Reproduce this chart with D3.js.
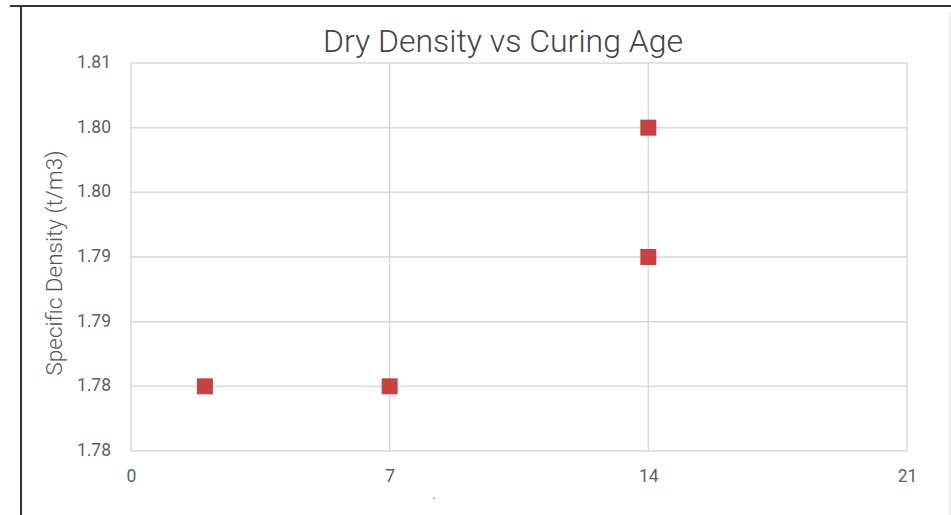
<!DOCTYPE html>
<html>
<head>
<meta charset="utf-8">
<script src="https://cdn.jsdelivr.net/npm/d3@7"></script>
<style>
  html, body { margin: 0; padding: 0; background: #fff; }
  svg { display: block; font-family: Roboto, "Noto Sans", sans-serif; }
</style>
</head>
<body>
<svg id="chart" width="951" height="515"></svg>
<script>
// Curing age (days) and measured dry density (t/m3)
const curingAge = [2, 7, 14, 14];
const dryDensity = [1.780, 1.780, 1.790, 1.800];

// Axis ticks and their displayed labels
const xTicks = [0, 7, 14, 21];
const yTicks = [1.775, 1.780, 1.785, 1.790, 1.795, 1.800, 1.805];
const yTickLabels = ["1.78", "1.78", "1.79", "1.79", "1.80", "1.80", "1.81"];

const titleText = "Dry Density vs Curing Age";
const yTitle = "Specific Density (t/m3)";
const xTitle = ".";

const svg = d3.select("#chart");
const W = 951, H = 515;
const plot = { left: 131, right: 907, top: 63, bottom: 451 };

// outer frame
svg.append("rect").attr("x", 0).attr("y", 0).attr("width", W).attr("height", H).attr("fill", "#fff");
svg.append("line").attr("x1", 10).attr("x2", W).attr("y1", 6).attr("y2", 6)
  .attr("stroke", "#333").attr("stroke-width", 2);
svg.append("line").attr("x1", 21).attr("x2", 21).attr("y1", 6).attr("y2", H)
  .attr("stroke", "#333").attr("stroke-width", 2);
svg.append("line").attr("x1", 950).attr("x2", 950).attr("y1", 12).attr("y2", H)
  .attr("stroke", "#ddd").attr("stroke-width", 1);

const x = d3.scaleLinear().domain([0, 21]).range([plot.left, plot.right]);
const y = d3.scaleLinear().domain([1.775, 1.805]).range([plot.bottom, plot.top]);

// gridlines
const grid = svg.append("g");
grid.selectAll("line.h").data(yTicks).join("line")
  .attr("x1", plot.left).attr("x2", plot.right)
  .attr("y1", d => y(d)).attr("y2", d => y(d))
  .attr("stroke", "#d9d9d9").attr("stroke-width", 1.5);
grid.selectAll("line.v").data(xTicks).join("line")
  .attr("x1", d => x(d)).attr("x2", d => x(d))
  .attr("y1", plot.top).attr("y2", plot.bottom)
  .attr("stroke", "#d9d9d9").attr("stroke-width", 1.5);

// y axis labels
const yAxis = d3.axisLeft(y).tickValues(yTicks).tickSize(0).tickPadding(0)
  .tickFormat((d, i) => yTickLabels[i]);
const gy = svg.append("g").attr("transform", `translate(${plot.left - 20},-1)`).call(yAxis);
gy.select(".domain").remove();
gy.selectAll("text").attr("font-size", 17.5).attr("fill", "#5f5f5f")
  .attr("font-family", "Roboto, sans-serif");

// x axis labels
const xAxis = d3.axisBottom(x).tickValues(xTicks).tickSize(0).tickPadding(0)
  .tickFormat(d3.format("d"));
const gx = svg.append("g").attr("transform", `translate(0,${plot.bottom + 19})`).call(xAxis);
gx.select(".domain").remove();
gx.selectAll("text").attr("font-size", 17.5).attr("fill", "#5f5f5f")
  .attr("font-family", "Roboto, sans-serif");

// title
svg.append("text").attr("x", 503).attr("y", 52).attr("text-anchor", "middle")
  .attr("font-size", 32).attr("font-weight", 300).attr("fill", "#444").text(titleText);

// y axis title
svg.append("text")
  .attr("transform", `translate(62,263) rotate(-90)`)
  .attr("text-anchor", "middle").attr("font-size", 22.5).attr("font-weight", 300)
  .attr("fill", "#555").text(yTitle);

// x axis title
svg.append("text").attr("x", 434).attr("y", 499).attr("text-anchor", "middle")
  .attr("font-size", 12).attr("fill", "#555").text(xTitle);

// data points
const pts = curingAge.map((a, i) => ({ age: a, dens: dryDensity[i] }));
const s = 16;
svg.append("g").selectAll("rect").data(pts).join("rect")
  .attr("x", d => x(d.age) - s / 2).attr("y", d => y(d.dens) - s / 2)
  .attr("width", s).attr("height", s)
  .attr("fill", "#c94242");
</script>
</body>
</html>
